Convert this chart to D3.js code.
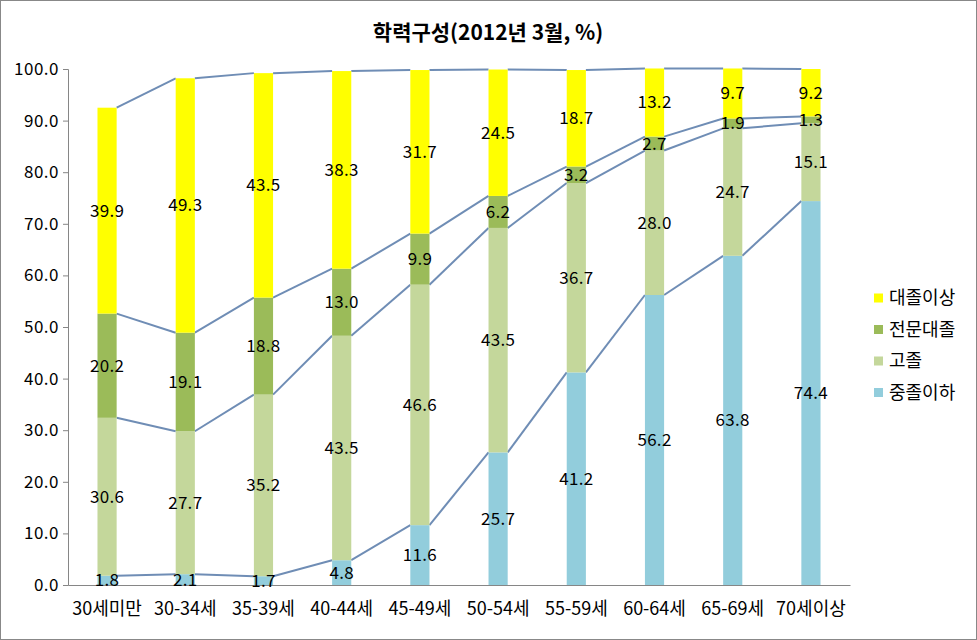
<!DOCTYPE html>
<html><head><meta charset="utf-8">
<script src="https://cdn.jsdelivr.net/npm/d3@7"></script>
<style>body{margin:0;background:#fff}svg{display:block}text{font-family:"Noto Sans CJK KR","Noto Sans",sans-serif}</style>
</head><body>
<svg id="c" width="977" height="640"></svg>
<script>
const categories = ["30세미만","30-34세","35-39세","40-44세","45-49세","50-54세","55-59세","60-64세","65-69세","70세이상"];
const seriesNames = ["중졸이하","고졸","전문대졸","대졸이상"];
const middle = [1.8,2.1,1.7,4.8,11.6,25.7,41.2,56.2,63.8,74.4];
const high = [30.6,27.7,35.2,43.5,46.6,43.5,36.7,28.0,24.7,15.1];
const college = [20.2,19.1,18.8,13.0,9.9,6.2,3.2,2.7,1.9,1.3];
const univ = [39.9,49.3,43.5,38.3,31.7,24.5,18.7,13.2,9.7,9.2];
const yTicks = [0,10,20,30,40,50,60,70,80,90,100];
const colors = ["#92cddc","#c4d79b","#9bbb59","#ffff00"];
const title = "학력구성(2012년 3월, %)";

const svg = d3.select("#c");
svg.append("rect").attr("x",0.5).attr("y",0.5).attr("width",976).attr("height",639)
  .attr("fill","#fff").attr("stroke","#888");

const pL=68,pR=850,pT=69,pB=585;
const x = d3.scaleBand().domain(categories).range([pL,pR]).paddingInner(0.755).paddingOuter(0.377);
const y = d3.scaleLinear().domain([0,100]).range([pB,pT]);

const rows = categories.map((c,i)=>({cat:c,"중졸이하":middle[i],"고졸":high[i],"전문대졸":college[i],"대졸이상":univ[i]}));
const stacked = d3.stack().keys(seriesNames)(rows);

svg.append("text").attr("x",488).attr("y",40).attr("text-anchor","middle")
  .attr("font-size",21).attr("font-weight","bold").text(title);

const lineColor="#6f8db5";
stacked.forEach(s=>{
  for(let i=0;i<s.length-1;i++){
    svg.append("line")
      .attr("x1",x(categories[i])+x.bandwidth()).attr("y1",y(s[i][1]))
      .attr("x2",x(categories[i+1])).attr("y2",y(s[i+1][1]))
      .attr("stroke",lineColor).attr("stroke-width",2);
  }
});

stacked.forEach((s,k)=>{
  svg.append("g").selectAll("rect").data(s).join("rect")
    .attr("x",d=>x(d.data.cat)).attr("width",x.bandwidth())
    .attr("y",d=>y(d[1])).attr("height",d=>y(d[0])-y(d[1]))
    .attr("fill",colors[k]);
});

const numFont = "'Noto Sans','DejaVu Sans',sans-serif";
const ya = d3.axisLeft(y).tickValues(yTicks).tickFormat(d3.format(".1f")).tickSize(5);
const gy = svg.append("g").attr("transform",`translate(${pL},0)`).call(ya);
gy.select(".domain").attr("stroke","#868686");
gy.selectAll(".tick line").attr("stroke","#868686");
gy.selectAll(".tick text").attr("font-size",17).attr("fill","#000").attr("x",-9)
  .attr("letter-spacing",0.5).attr("font-family",numFont);

const xa = d3.axisBottom(x).tickSize(0).tickPadding(17);
const gx = svg.append("g").attr("transform",`translate(0,${pB})`).call(xa);
gx.select(".domain").attr("stroke","#868686");
gx.selectAll(".tick text").attr("font-size",18).attr("fill","#000");

stacked.forEach(s=>{
  svg.append("g").selectAll("text").data(s).join("text")
    .attr("x",d=>x(d.data.cat)+x.bandwidth()/2)
    .attr("y",d=>y((d[0]+d[1])/2))
    .attr("dy","0.35em").attr("text-anchor","middle")
    .attr("font-size",17).attr("fill","#000").attr("letter-spacing",0.3)
    .attr("font-family",numFont)
    .text(d=>d3.format(".1f")(d[1]-d[0]));
});

const leg = svg.append("g");
const order = [3,2,1,0];
order.forEach((k,j)=>{
  const yy = 298 + j*31.5;
  leg.append("rect").attr("x",874).attr("y",yy-4.5).attr("width",9).attr("height",9).attr("fill",colors[k]);
  leg.append("text").attr("x",889).attr("y",yy).attr("dy","0.35em").attr("font-size",18).text(seriesNames[k]);
});
</script>
</body></html>
